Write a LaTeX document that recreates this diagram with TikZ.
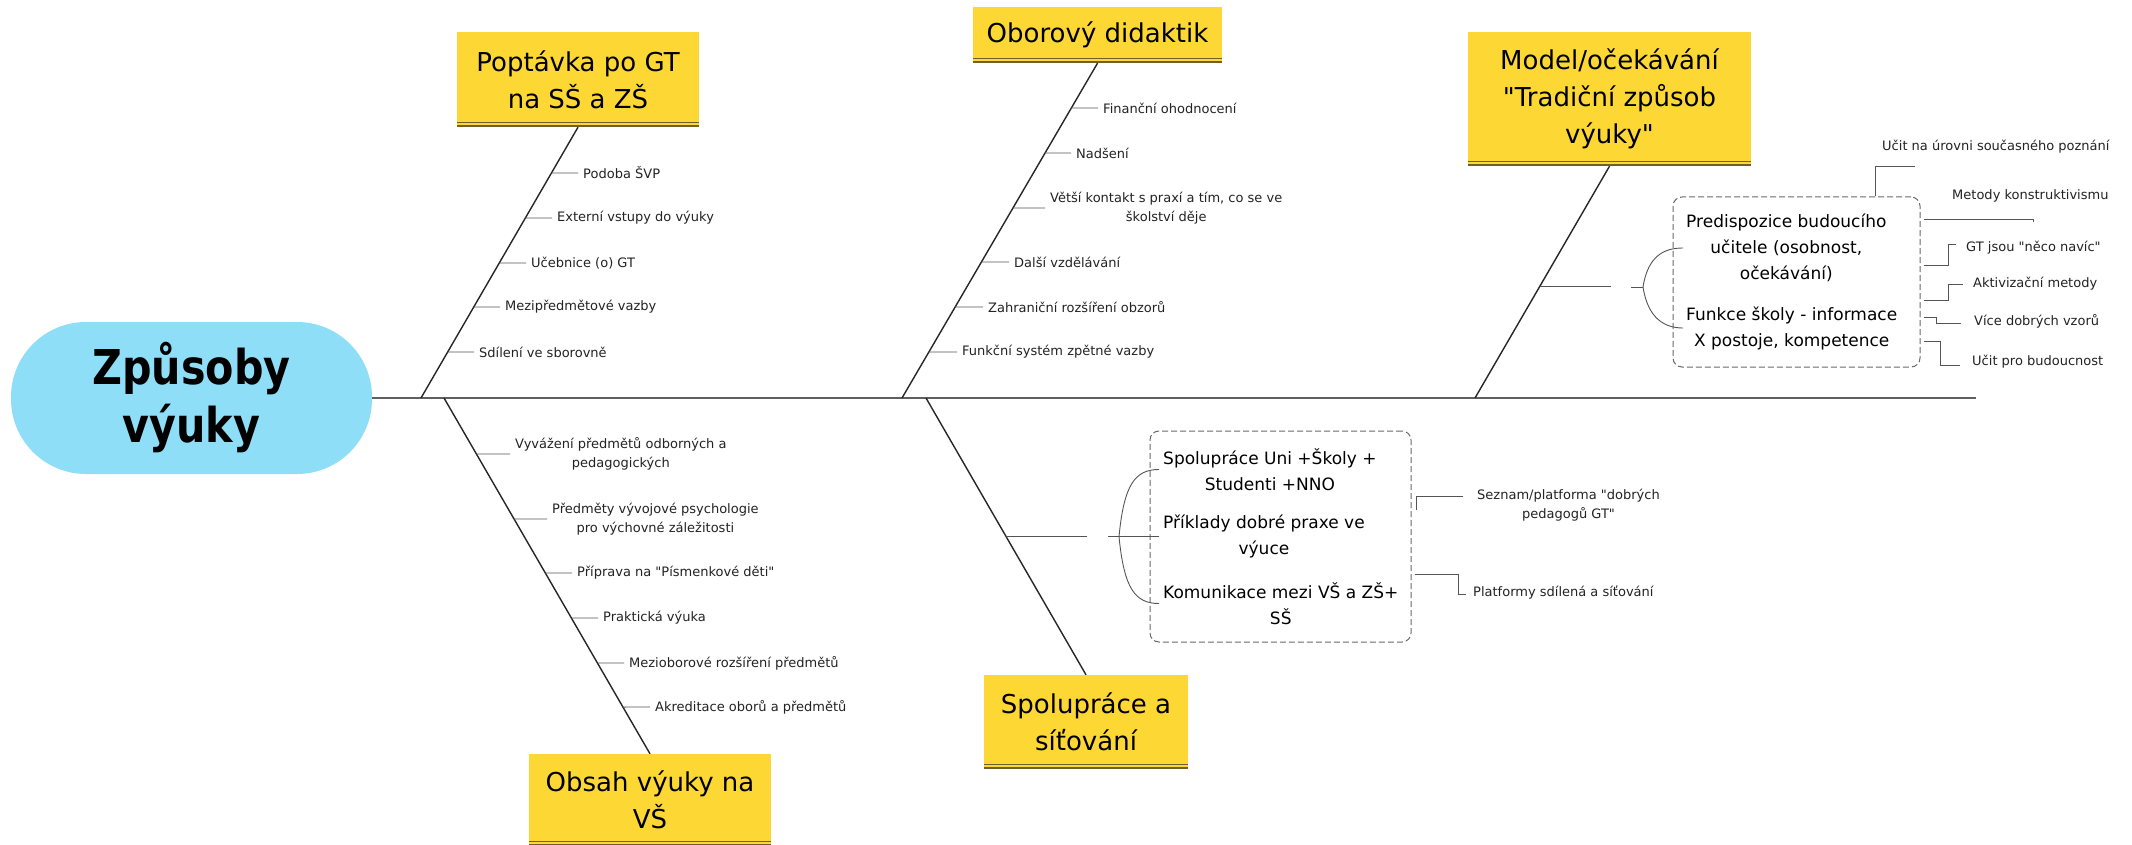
\documentclass[tikz,border=0pt]{standalone}
\usepackage{fontspec}
\setmainfont{DejaVu Sans}[Ligatures=TeXOff]
\newfontfamily\hubfont[FakeStretch=0.86]{DejaVu Sans}
\usetikzlibrary{
  calc,
  positioning
}
\definecolor{skyblue}{RGB}{142,222,248}
\definecolor{topicyellow}{RGB}{253,216,52}
\definecolor{ruleolive}{RGB}{110,95,45}
\definecolor{inkgray}{RGB}{35,35,35}
\definecolor{twiggray}{RGB}{85,85,85}
\definecolor{spinegray}{RGB}{95,95,95}
\definecolor{dashgray}{RGB}{105,105,105}

\begin{document}
\begin{tikzpicture}[x=1pt, y=-1pt,
  hub/.style={fill=skyblue, rounded corners=75pt, minimum width=361pt, minimum height=152pt, align=center, inner sep=0pt, font=\hubfont\bfseries\fontsize{48}{58}\selectfont},
  topic/.style={fill=topicyellow, align=center, inner sep=0pt, font=\fontsize{26}{37}\selectfont,
    path picture={\draw[ruleolive, line width=1.3pt]
      ([yshift=1pt]path picture bounding box.south west) -- ([yshift=1pt]path picture bounding box.south east)
      ([yshift=4.5pt]path picture bounding box.south west) -- ([yshift=4.5pt]path picture bounding box.south east);}},
  item/.style={anchor=west, inner sep=5pt, align=center, text=inkgray, font=\fontsize{13}{19}\selectfont},
  note/.style={anchor=west, inner sep=0pt, align=center, text=inkgray, font=\fontsize{13}{19}\selectfont},
  boxtext/.style={anchor=west, inner sep=0pt, align=center, font=\fontsize{17}{26}\selectfont},
  groupbox/.style={draw=dashgray, dash pattern=on 6pt off 3pt, rounded corners=9pt, line width=1pt},
  spine/.style={draw=spinegray, line width=2pt},
  bone/.style={draw=black!85, line width=1.4pt},
  twig/.style={draw=twiggray, line width=0.9pt}
]
  \fill[white] (0,0) rectangle (2132,845);
  \useasboundingbox (0,0) rectangle (2132,845);

  % head and spine
  \node[hub] (hub) at (191.5,398) {Způsoby\\výuky};
  \coordinate (tail) at (1976,398);
  \coordinate (j1) at (421,398);
  \coordinate (j2) at (902,398);
  \coordinate (j3) at (1475,398);
  \coordinate (k1) at (444,398);
  \coordinate (k2) at (926,398);
  \draw[spine] (hub.east) -- (tail);

  % topics
  \node[topic, minimum width=242pt, minimum height=95pt] (demand) at (578,79.5) {Poptávka po GT\\na SŠ a ZŠ};
  \node[topic, minimum width=249pt, minimum height=56pt] (didact) at (1097.5,35) {Oborový didaktik};
  \node[topic, minimum width=283pt, minimum height=134pt] (model) at (1609.5,99) {Model/očekávání\\"Tradiční způsob\\výuky"};
  \node[topic, minimum width=242pt, minimum height=92pt] (content) at (650,800) {Obsah výuky na\\VŠ};
  \node[topic, minimum width=204pt, minimum height=94pt] (coop) at (1086,722) {Spolupráce a\\síťování};

  \draw[bone] (demand.south) -- (j1);
  \draw[bone] (didact.south) -- (j2);
  \draw[bone] (model.south) -- (j3);
  \draw[bone] (k1) -- (content.north);
  \draw[bone] (k2) -- (coop.north);

  % demand items
  \node[item] (d1) at (578,173) {Podoba ŠVP};
  \node[item] (d2) at (552,218) {Externí vstupy do výuky};
  \node[item] (d3) at (526,263) {Učebnice (o) GT};
  \node[item] (d4) at (500,307) {Mezipředmětové vazby};
  \node[item] (d5) at (474,352) {Sdílení ve sborovně};
  \foreach \n in {d1,d2,d3,d4,d5}
    \draw[twig] (intersection of demand.south--j1 and \n.west--\n.east) -- (\n.west);

  % didactician items
  \node[item] (o1) at (1098,108) {Finanční ohodnocení};
  \node[item] (o2) at (1071,153) {Nadšení};
  \node[item] (o3) at (1045,208) {Větší kontakt s praxí a tím, co se ve\\školství děje};
  \node[item] (o4) at (1009,262) {Další vzdělávání};
  \node[item] (o5) at (983,307) {Zahraniční rozšíření obzorů};
  \node[item] (o6) at (957,352) {Funkční systém zpětné vazby};
  \foreach \n in {o1,o2,o3,o4,o5,o6}
    \draw[twig] (intersection of didact.south--j2 and \n.west--\n.east) -- (\n.west);

  % content items
  \node[item] (c1) at (510,454) {Vyvážení předmětů odborných a\\pedagogických};
  \node[item] (c2) at (547,519) {Předměty vývojové psychologie\\pro výchovné záležitosti};
  \node[item] (c3) at (572,573) {Příprava na "Písmenkové děti"};
  \node[item] (c4) at (598,618) {Praktická výuka};
  \node[item] (c5) at (624,663) {Mezioborové rozšíření předmětů};
  \node[item] (c6) at (650,707) {Akreditace oborů a předmětů};
  \foreach \n in {c1,c2,c3,c4,c5,c6}
    \draw[twig] (intersection of k1--content.north and \n.west--\n.east) -- (\n.west);

  % model group
  \node[groupbox, minimum width=247pt, minimum height=170pt] (mgrp) at (1796.5,282) {};
  \node[boxtext] (pred) at (1686,248) {Predispozice budoucího\\učitele (osobnost,\\očekávání)};
  \node[boxtext] (funk) at (1686,328) {Funkce školy - informace\\X postoje, kompetence};
  \coordinate (mfork) at ($(model.south)!0.52!(j3)$);
  \coordinate (mknot) at (1643,287);
  \draw[twig] (mfork) -- ++(71,0);
  \draw[twig] ([xshift=-12pt]mknot) -- (mknot);
  \draw[twig] (mknot) .. controls +(5,-32) and +(-18,0) .. ([xshift=-3pt]pred.west);
  \draw[twig] (mknot) .. controls +(5,32) and +(-18,0) .. ([xshift=-3pt]funk.west);

  \node[note] (u1) at (1882,147) {Učit na úrovni současného poznání};
  \node[note] (u2) at (1952,196) {Metody konstruktivismu};
  \node[note] (u3) at (1966,248) {GT jsou "něco navíc"};
  \node[note] (u4) at (1973,284) {Aktivizační metody};
  \node[note] (u5) at (1974,321) {Více dobrých vzorů};
  \node[note] (u6) at (1972,362) {Učit pro budoucnost};
  \coordinate (u1end) at (1915,166);
  \coordinate (u2end) at (2033,219);
  \draw[twig] ([xshift=78.5pt]mgrp.north) |- (u1end);
  \draw[twig] ([shift={(3pt,63pt)}]mgrp.east) -- (u2end) -- ++(0,3);
  \draw[twig] ([shift={(3pt,17pt)}]mgrp.east) -- ++(25,0) |- ([shift={(-10pt,4pt)}]u3.west);
  \draw[twig] ([shift={(3pt,-18pt)}]mgrp.east) -- ++(25,0) |- ([xshift=-10pt]u4.west);
  \draw[twig] ([shift={(3pt,-35pt)}]mgrp.east) -- ++(13,0) |- ([shift={(-13pt,-2pt)}]u5.west);
  \draw[twig] ([shift={(3pt,-59pt)}]mgrp.east) -- ++(17,0) |- ([shift={(-12pt,-3pt)}]u6.west);

  % cooperation group
  \node[groupbox, minimum width=261pt, minimum height=211pt] (sgrp) at (1280.5,536.5) {};
  \node[boxtext] (s1) at (1163,469.5) {Spolupráce Uni +Školy +\\Studenti +NNO};
  \node[boxtext] (s2) at (1163,536.5) {Příklady dobré praxe ve\\výuce};
  \node[boxtext] (s3) at (1163,603.5) {Komunikace mezi VŠ a ZŠ+\\SŠ};
  \coordinate (sfork) at ($(k2)!0.5!(coop.north)$);
  \coordinate (sknot) at (1119,536.5);
  \draw[twig] (sfork) -- ++(81,0);
  \draw[twig] ([xshift=-11pt]sknot) -- ([xshift=-4pt]s2.west);
  \draw[twig] (sknot) .. controls +(5,-52) and +(-24,0) .. ([xshift=-4pt]s1.west);
  \draw[twig] (sknot) .. controls +(5,52) and +(-24,0) .. ([xshift=-4pt]s3.west);

  \node[note] (v1) at (1477,505) {Seznam/platforma "dobrých\\pedagogů GT"};
  \node[note] (v2) at (1473,593) {Platformy sdílená a síťování};
  \draw[twig] ([shift={(5pt,26.5pt)}]sgrp.east) |- ([shift={(-14pt,9pt)}]v1.west);
  \draw[twig] ([shift={(3pt,-37.5pt)}]sgrp.east) -- ++(44,0) |- ([shift={(-7pt,-1pt)}]v2.west);
\end{tikzpicture}
\end{document}
